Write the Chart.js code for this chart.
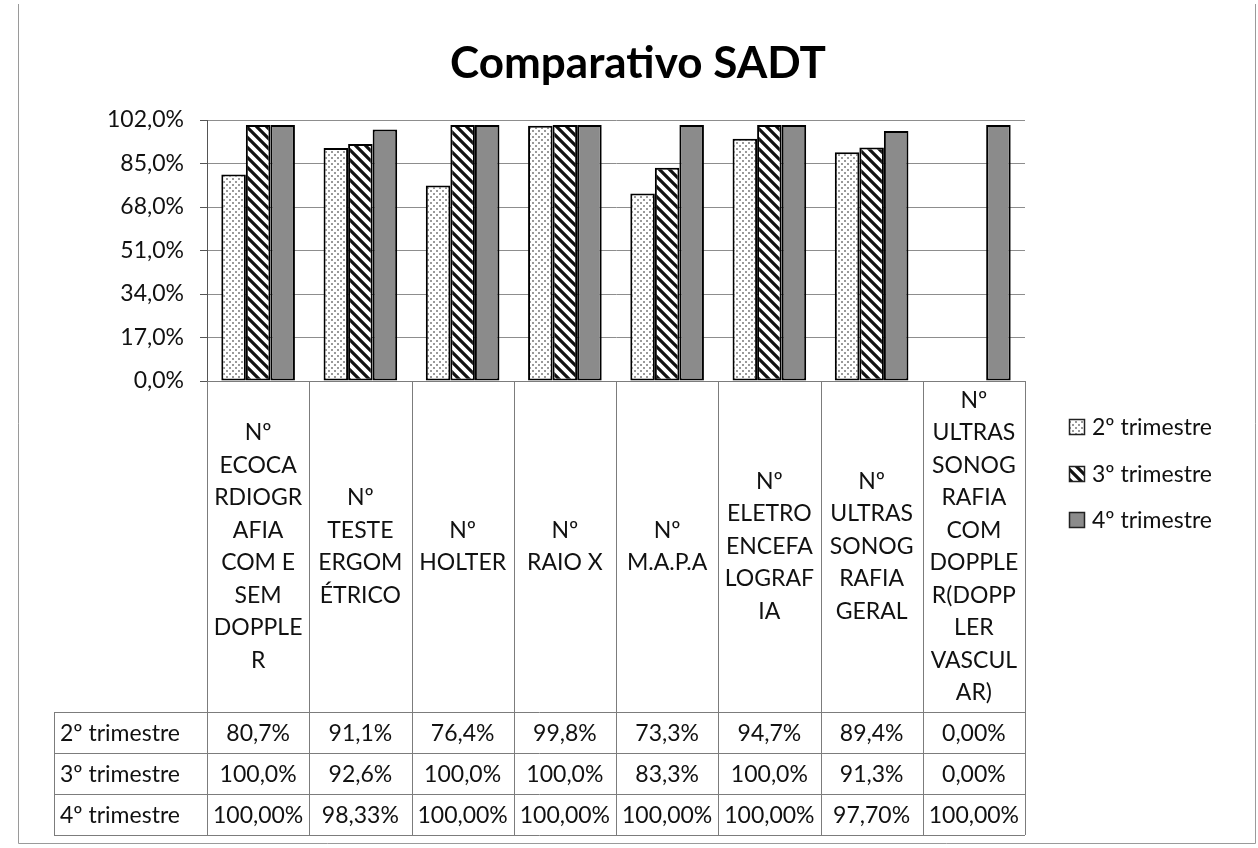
<!DOCTYPE html>
<html>
<head>
<meta charset="utf-8">
<script src="https://cdn.jsdelivr.net/npm/chart.js@4.4.1/dist/chart.umd.min.js"></script>
<style>
  html, body { margin: 0; padding: 0; background: #fff; }
  #wrap { width: 1258px; height: 848px; }
</style>
</head>
<body>
<div id="wrap"><canvas id="chart" width="1258" height="848"></canvas></div>
<script>
/* =========================
   DATA
========================= */

// category labels, already split on lines the way the table cell wraps them
const categories = [
  ["Nº", "ECOCA", "RDIOGR", "AFIA", "COM E", "SEM", "DOPPLE", "R"],
  ["Nº", "TESTE", "ERGOM", "ÉTRICO"],
  ["Nº", "HOLTER"],
  ["Nº", "RAIO X"],
  ["Nº", "M.A.P.A"],
  ["Nº", "ELETRO", "ENCEFA", "LOGRAF", "IA"],
  ["Nº", "ULTRAS", "SONOG", "RAFIA", "GERAL"],
  ["Nº", "ULTRAS", "SONOG", "RAFIA", "COM", "DOPPLE", "R(DOPP", "LER", "VASCUL", "AR)"]
];

const seriesNames = ["2º trimestre", "3º trimestre", "4º trimestre"];

const tri2 = [80.7, 91.1, 76.4, 99.8, 73.3, 94.7, 89.4, 0];
const tri3 = [100, 92.6, 100, 100, 83.3, 100, 91.3, 0];
const tri4 = [100, 98.33, 100, 100, 100, 100, 97.7, 100];

// decimals shown in the data table cells
const decimals2 = [1, 1, 1, 1, 1, 1, 1, 2];
const decimals3 = [1, 1, 1, 1, 1, 1, 1, 2];
const decimals4 = [2, 2, 2, 2, 2, 2, 2, 2];

const yMax = 102;
const yStep = 17;

const chartTitle = "Comparativo SADT";


/* =========================
   STYLE HELPERS
========================= */

const FONT = 'Lato, "Open Sans", sans-serif';
const TEXT = "#111";
const LINE = "#7c7c7c";

function fmtPct(v, d) {
  return v.toFixed(d).replace(".", ",") + "%";
}

function makePattern(kind) {
  const c = document.createElement("canvas");
  const s = kind === "dots" ? 6 : 10;
  c.width = s;
  c.height = s;
  const g = c.getContext("2d");
  g.fillStyle = "#fff";
  g.fillRect(0, 0, s, s);
  if (kind === "dots") {
    g.fillStyle = "#9a9a9a";
    g.fillRect(1, 1, 2, 2);
    g.fillRect(4, 4, 2, 2);
  } else {
    g.strokeStyle = "#111";
    g.lineWidth = 3.2;
    g.beginPath();
    g.moveTo(-2, -2); g.lineTo(s + 2, s + 2);
    g.moveTo(-2, s - 2); g.lineTo(2, s + 2);
    g.moveTo(s - 2, -2); g.lineTo(s + 2, 2);
    g.stroke();
  }
  return g.createPattern(c, "repeat");
}

const fills = [makePattern("dots"), makePattern("stripes"), "#8b8b8b"];


/* =========================
   TABLE / TITLE / LEGEND PLUGIN
========================= */

const sadtPlugin = {
  id: "sadtTable",
  afterDraw(chart) {
    const ctx = chart.ctx;
    const x = chart.scales.x;
    const y = chart.scales.y;
    const n = categories.length;
    const colW = (x.right - x.left) / n;
    const top = Math.round(y.getPixelForValue(0));
    const labelBottom = top + 331;
    const rowH = 41;
    const tableLeft = 54;
    const rows = [[tri2, decimals2], [tri3, decimals3], [tri4, decimals4]];
    const bottom = labelBottom + rowH * rows.length;

    ctx.save();

    // frame of the chart object
    ctx.strokeStyle = "#9a9a9a";
    ctx.lineWidth = 1;
    ctx.beginPath();
    ctx.moveTo(18.5, 4); ctx.lineTo(18.5, 843.5);
    ctx.lineTo(1255.5, 843.5); ctx.lineTo(1255.5, 4);
    ctx.stroke();

    // title
    ctx.fillStyle = "#000";
    ctx.font = "bold 44px " + FONT;
    ctx.textAlign = "center";
    ctx.textBaseline = "alphabetic";
    ctx.fillText(chartTitle, 638, 78);

    // table grid
    ctx.strokeStyle = LINE;
    ctx.lineWidth = 1;
    ctx.beginPath();
    for (let i = 0; i <= n; i++) {
      const px = Math.round(x.left + i * colW) + 0.5;
      ctx.moveTo(px, top);
      ctx.lineTo(px, bottom);
    }
    ctx.moveTo(x.left, top + 0.5);
    ctx.lineTo(x.right, top + 0.5);
    for (let r = 0; r <= rows.length; r++) {
      const py = labelBottom + r * rowH + 0.5;
      ctx.moveTo(tableLeft, py);
      ctx.lineTo(x.right, py);
    }
    ctx.moveTo(tableLeft + 0.5, labelBottom);
    ctx.lineTo(tableLeft + 0.5, bottom);
    ctx.stroke();

    // category labels, centred in their cell
    ctx.fillStyle = TEXT;
    ctx.font = "23px " + FONT;
    ctx.textAlign = "center";
    ctx.textBaseline = "middle";
    const lh = 32.5;
    const midY = (top + labelBottom) / 2;
    categories.forEach((lines, i) => {
      const cx = x.getPixelForValue(i);
      const y0 = midY - (lines.length - 1) * lh / 2;
      lines.forEach((t, k) => ctx.fillText(t, cx, y0 + k * lh));
    });

    // data rows
    rows.forEach(([vals, decs], r) => {
      const cy = labelBottom + r * rowH + rowH / 2 + 1;
      ctx.textAlign = "left";
      ctx.fillText(seriesNames[r], tableLeft + 6, cy);
      ctx.textAlign = "center";
      vals.forEach((v, i) => ctx.fillText(fmtPct(v, decs[i]), x.getPixelForValue(i), cy));
    });

    // legend
    const legY = [427, 474, 520];
    seriesNames.forEach((name, i) => {
      ctx.fillStyle = fills[i];
      ctx.fillRect(1069, legY[i] - 8, 16, 16);
      ctx.strokeStyle = "#222";
      ctx.lineWidth = 1.5;
      ctx.strokeRect(1069.5, legY[i] - 7.5, 15, 15);
      ctx.fillStyle = TEXT;
      ctx.textAlign = "left";
      ctx.fillText(name, 1092, legY[i] + 1);
    });

    ctx.restore();
  }
};


/* =========================
   CHART
========================= */

new Chart(document.getElementById("chart"), {
  type: "bar",
  data: {
    labels: categories,
    datasets: [tri2, tri3, tri4].map((vals, i) => ({
      label: seriesNames[i],
      data: vals,
      backgroundColor: fills[i],
      borderColor: "#000",
      borderWidth: 2,
      borderSkipped: false,
      categoryPercentage: 0.72,
      barPercentage: 1
    }))
  },
  options: {
    responsive: false,
    animation: false,
    layout: { padding: { left: 0, right: 233, top: 120, bottom: 467 } },
    plugins: {
      legend: { display: false },
      title: { display: false },
      tooltip: { enabled: false }
    },
    scales: {
      x: { display: false },
      y: {
        min: 0,
        max: yMax,
        afterFit: s => { s.width = 207; },
        ticks: {
          stepSize: yStep,
          padding: 16,
          color: TEXT,
          font: { family: FONT, size: 23 },
          callback: v => fmtPct(v, 1)
        },
        grid: { color: "#8d8d8d", tickLength: 7, tickColor: "#555" },
        border: { color: "#555" }
      }
    }
  },
  plugins: [sadtPlugin]
});
</script>
</body>
</html>
